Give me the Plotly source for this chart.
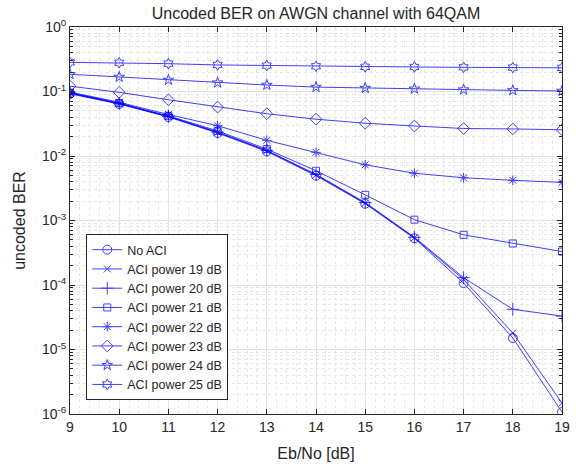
import plotly.graph_objects as go

ebno = [9, 10, 11, 12, 13, 14, 15, 16, 17, 18, 19]

ber_no_aci = [0.092, 0.064, 0.0402, 0.0227, 0.0118, 0.00495, 0.00182, 0.00053, 0.000107, 1.51e-5, 1.07e-6]
ber_aci19 = [0.094, 0.065, 0.041, 0.0232, 0.0121, 0.0051, 0.00186, 0.00054, 0.000122, 1.8e-5, 1.48e-6]
ber_aci20 = [0.095, 0.065, 0.041, 0.0235, 0.0122, 0.0052, 0.0019, 0.00055, 0.00013, 4.2e-5, 3.3e-5]
ber_aci21 = [0.096, 0.066, 0.042, 0.0245, 0.0128, 0.0059, 0.0025, 0.00103, 0.0006, 0.00044, 0.00033]
ber_aci22 = [0.098, 0.068, 0.044, 0.0295, 0.0175, 0.0114, 0.0073, 0.0054, 0.0046, 0.0042, 0.0039]
ber_aci23 = [0.121, 0.097, 0.0745, 0.0573, 0.0452, 0.0372, 0.0322, 0.0292, 0.0267, 0.0263, 0.0255]
ber_aci24 = [0.185, 0.168, 0.151, 0.137, 0.126, 0.117, 0.113, 0.110, 0.107, 0.104, 0.102]
ber_aci25 = [0.283, 0.279, 0.270, 0.258, 0.252, 0.246, 0.241, 0.240, 0.237, 0.235, 0.233]

series_names = ["No ACI", "ACI power 19 dB", "ACI power 20 dB", "ACI power 21 dB",
                "ACI power 22 dB", "ACI power 23 dB", "ACI power 24 dB", "ACI power 25 dB"]
series_values = [ber_no_aci, ber_aci19, ber_aci20, ber_aci21, ber_aci22, ber_aci23, ber_aci24, ber_aci25]
markers = ["circle-open", "x-thin-open", "cross-thin-open", "square-open",
           "asterisk-open", "diamond-open", "star-open", "hexagram-open"]
marker_sizes = [9, 7, 9, 7, 8, 9, 8, 8]

ytick_vals = [1, 1e-1, 1e-2, 1e-3, 1e-4, 1e-5, 1e-6]
ytick_text = ["10<sup>0</sup>", "10<sup>-1</sup>", "10<sup>-2</sup>", "10<sup>-3</sup>",
              "10<sup>-4</sup>", "10<sup>-5</sup>", "10<sup>-6</sup>"]

blue = "rgb(0,0,255)"
fig = go.Figure()
for name, vals, m, s in zip(series_names, series_values, markers, marker_sizes):
    fig.add_trace(go.Scatter(
        x=ebno, y=vals, name=name, mode="lines+markers",
        line=dict(color=blue, width=1),
        marker=dict(symbol=m, size=s, color=blue, line=dict(color=blue, width=1)),
        opacity=0.75,
    ))

font_family = "Liberation Sans, Arial, sans-serif"
fig.update_layout(
    width=576, height=466,
    margin=dict(l=70, r=14, t=27, b=52),
    paper_bgcolor="white", plot_bgcolor="white",
    font=dict(family=font_family, size=13, color="#262626"),
    title=dict(text="Uncoded BER on AWGN channel with 64QAM", xref="paper", x=0.5,
               xanchor="center", yref="container", y=1 - 13.5 / 466, yanchor="middle",
               font=dict(size=16, color="#262626")),
    showlegend=True,
    legend=dict(x=0.033, y=0.036, xanchor="left", yanchor="bottom",
                bgcolor="white", bordercolor="#262626", borderwidth=1,
                font=dict(size=12.5, color="#262626"), tracegroupgap=0,
                itemwidth=30),
)
fig.update_xaxes(
    range=[9, 19], dtick=1, tick0=9, automargin=False,
    showline=True, linecolor="#262626", linewidth=1, mirror="ticks",
    ticks="inside", ticklen=5, tickcolor="#262626",
    showgrid=True, gridcolor="#e3e3e3", gridwidth=1,
    zeroline=False,
    minor=dict(dtick=0.2, showgrid=True, gridcolor="#e6e6e6", griddash="dot", ticks=""),
    title=dict(text="Eb/No [dB]", font=dict(size=16, color="#262626"), standoff=14),
    tickfont=dict(size=14, color="#262626"),
)
fig.update_yaxes(
    type="log", range=[-6, 0], automargin=False,
    tickvals=ytick_vals, ticktext=ytick_text,
    showline=True, linecolor="#262626", linewidth=1, mirror="ticks",
    ticks="inside", ticklen=5, tickcolor="#262626",
    showgrid=True, gridcolor="#e3e3e3", gridwidth=1,
    zeroline=False,
    minor=dict(dtick="D1", showgrid=True, gridcolor="#e6e6e6", griddash="dot",
               ticks="inside", ticklen=3, tickcolor="#262626"),
    title=dict(text="uncoded BER", font=dict(size=16, color="#262626"), standoff=12),
    tickfont=dict(size=14, color="#262626"),
)

fig.write_html("out.html", config={"displayModeBar": False},
               post_script="document.body.style.margin='0';")
